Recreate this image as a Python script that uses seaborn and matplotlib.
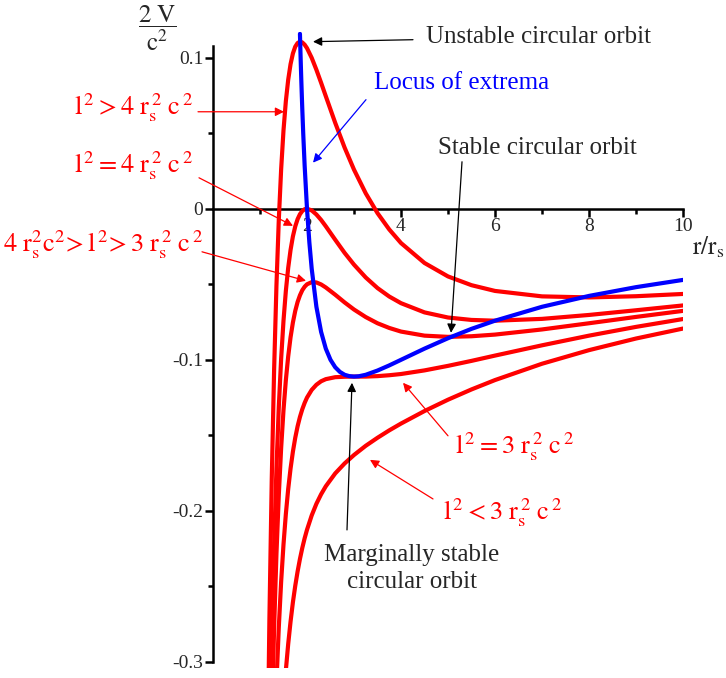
import numpy as np
import pandas as pd
import matplotlib
matplotlib.use('Agg')
import matplotlib.pyplot as plt
import seaborn as sns

# r / r_s sample points for the red potential curves
r_vals = [1.15, 1.2, 1.25, 1.3, 1.35, 1.4, 1.45, 1.5, 1.55, 1.6, 1.65, 1.7, 1.75,
          1.8, 1.85, 1.9, 1.95, 2.0, 2.1, 2.2, 2.3, 2.4, 2.6, 2.8, 3.0, 3.25, 3.5,
          3.75, 4.0, 4.5, 5.0, 5.5, 6.0, 7.0, 8.0, 9.0, 10.0]

# 2V/c^2 for each angular momentum case
v_above4 = [-0.391, -0.272, -0.1792, -0.107, -0.0508, -0.0073, 0.0262, 0.0519, 0.0712,
            0.0854, 0.0957, 0.1028, 0.1073, 0.1097, 0.1106, 0.1101, 0.1086, 0.1063,
            0.0999, 0.092, 0.0834, 0.0745, 0.0569, 0.0405, 0.0259, 0.0102, -0.0029,
            -0.0137, -0.0227, -0.0359, -0.0448, -0.0506, -0.0544, -0.058, -0.0587,
            -0.0579, -0.0564]
v_equal4 = [-0.475, -0.3704, -0.288, -0.223, -0.1717, -0.1312, -0.0992, -0.0741, -0.0544,
            -0.0391, -0.0273, -0.0183, -0.0117, -0.0069, -0.0036, -0.0015, -0.0003, 0.0,
            -0.0011, -0.0038, -0.0074, -0.0116, -0.0205, -0.0292, -0.037, -0.0455,
            -0.0525, -0.0581, -0.0625, -0.0686, -0.072, -0.0736, -0.0741, -0.0729,
            -0.0703, -0.0672, -0.064]
v_between = [-0.5145, -0.4167, -0.3392, -0.2777, -0.2286, -0.1895, -0.1583, -0.1333,
             -0.1135, -0.0977, -0.0851, -0.0753, -0.0676, -0.0617, -0.0573, -0.0539,
             -0.0516, -0.05, -0.0486, -0.0488, -0.0501, -0.0521, -0.0569, -0.062,
             -0.0667, -0.0717, -0.0758, -0.0789, -0.0813, -0.084, -0.0848, -0.0844,
             -0.0833, -0.0799, -0.0758, -0.0716, -0.0676]
v_equal3 = [-0.5737, -0.4861, -0.416, -0.3596, -0.314, -0.277, -0.2468, -0.2222, -0.2021,
            -0.1855, -0.172, -0.1608, -0.1516, -0.144, -0.1378, -0.1327, -0.1285, -0.125,
            -0.1199, -0.1165, -0.1142, -0.1128, -0.1115, -0.1112, -0.1111, -0.1111,
            -0.1108, -0.1102, -0.1094, -0.107, -0.104, -0.1007, -0.0972, -0.0904,
            -0.084, -0.0782, -0.073]
v_below3 = [-0.6427, -0.5671, -0.5056, -0.4552, -0.4136, -0.379, -0.3502, -0.3259,
            -0.3055, -0.2881, -0.2733, -0.2605, -0.2496, -0.2401, -0.2318, -0.2245,
            -0.2181, -0.2125, -0.203, -0.1953, -0.189, -0.1837, -0.1752, -0.1686,
            -0.163, -0.1569, -0.1516, -0.1467, -0.1422, -0.1339, -0.1264, -0.1196,
            -0.1134, -0.1026, -0.0936, -0.0859, -0.0793]

# locus of extrema (blue)
r_locus = [1.85, 1.86, 1.87, 1.88, 1.89, 1.9, 1.92, 1.95, 2.0, 2.05, 2.1, 2.2, 2.3, 2.4,
           2.5, 2.6, 2.7, 2.8, 2.9, 3.0, 3.1, 3.25, 3.5, 3.75, 4.0, 4.5, 5.0, 5.5, 6.0,
           7.0, 8.0, 9.0, 10.0]
v_locus = [0.1158, 0.1045, 0.0939, 0.084, 0.0746, 0.0658, 0.0496, 0.0285, 0.0, -0.0222,
           -0.0397, -0.0649, -0.0815, -0.0926, -0.1, -0.1049, -0.108, -0.1099, -0.1108,
           -0.1111, -0.1109, -0.1099, -0.1071, -0.1037, -0.1, -0.0926, -0.0857, -0.0795,
           -0.0741, -0.0649, -0.0577, -0.0519, -0.0471]

curve_names = ['above4', 'equal4', 'between', 'equal3', 'below3']
curve_vals = [v_above4, v_equal4, v_between, v_equal3, v_below3]

df = pd.concat([pd.DataFrame({'r': r_vals, 'V': v, 'curve': n})
                for n, v in zip(curve_names, curve_vals)], ignore_index=True)
df_locus = pd.DataFrame({'r': r_locus, 'V': v_locus})

sns.set_style('white')
plt.rcParams['font.family'] = ['Liberation Serif', 'DejaVu Serif']
plt.rcParams['mathtext.fontset'] = 'stix'

RED = '#ff0000'
BLUE = '#0000ff'

fig = plt.figure(figsize=(7.26, 6.78), dpi=100)
ax = fig.add_axes([213 / 726, 10 / 678, 470 / 726, 636 / 678])

sns.lineplot(data=df, x='r', y='V', hue='curve', palette={n: RED for n in curve_names},
             estimator=None, sort=False, legend=False, linewidth=3, ax=ax)
sns.lineplot(data=df_locus, x='r', y='V', color=BLUE, estimator=None, sort=False,
             linewidth=3, ax=ax, zorder=5)

ax.set_xlim(0, 10)
ax.set_ylim(-0.304, 0.117)

# Maple style crossing axes
for s in ['top', 'right']:
    ax.spines[s].set_visible(False)
ax.spines['left'].set_position(('data', 0))
ax.spines['bottom'].set_position(('data', 0))
ax.spines['left'].set_bounds(-0.3, 0.108)
ax.spines['bottom'].set_bounds(0, 10)
for s in ['left', 'bottom']:
    ax.spines[s].set_linewidth(1.8)
    ax.spines[s].set_color('black')
    ax.spines[s].set_zorder(1)

ax.set_xticks([2, 4, 6, 8, 10])
ax.set_xticklabels(['2', '4', '6', '8', '10'])
ax.set_xticks([1, 3, 5, 7, 9], minor=True)
ax.set_yticks([-0.3, -0.2, -0.1, 0, 0.1])
ax.set_yticklabels(['-0.3', '-0.2', '-0.1', '0', '0.1'])
ax.set_yticks([-0.25, -0.15, -0.05, 0.05], minor=True)
ax.tick_params(which='both', bottom=True, left=True, top=False, right=False,
               direction='out', color='black', width=1.8)
ax.tick_params(which='major', length=6, labelsize=14, pad=1)
ax.tick_params(which='minor', length=3.5)
ax.set_xlabel('')
ax.set_ylabel('')
ax.grid(False)

# axis labels
ax.text(-1.19, 0.1195, r'$\dfrac{2\ \mathrm{V}}{\mathrm{c}^{2}}$', fontsize=18,
        ha='center', va='center')
ax.text(10.19, -0.0252, r'$\mathrm{r/r_s}$', fontsize=18, ha='left', va='center')

def arrow(tail, head, color):
    ax.annotate('', xy=head, xytext=tail, annotation_clip=False,
                arrowprops=dict(arrowstyle='-|>', color=color, lw=0.9,
                                mutation_scale=13, shrinkA=0, shrinkB=0))

# black annotations
ax.text(4.532, 0.1139, 'Unstable circular orbit', fontsize=18, ha='left', va='center')
arrow((4.255, 0.1119), (2.128, 0.1106), 'black')
ax.text(4.787, 0.0404, 'Stable circular orbit', fontsize=18, ha='left', va='center')
arrow((5.298, 0.0311), (5.064, -0.0821), 'black')
ax.text(4.234, -0.2384, 'Marginally stable\ncircular orbit', fontsize=18,
        ha='center', va='center', linespacing=1.3)
arrow((2.851, -0.2126), (2.957, -0.1152), 'black')

# blue annotation
ax.text(3.426, 0.0834, 'Locus of extrema', fontsize=18, color=BLUE, ha='left', va='center')
arrow((3.255, 0.0722), (2.128, 0.0305), BLUE)

# red annotations
ax.text(-0.43, 0.0669, r'$\mathrm{l}^{\,2} > 4\ \mathrm{r}_\mathrm{s}^{\,2}\ \mathrm{c}^{\,2}$',
        fontsize=19, color=RED, ha='right', va='center')
arrow((-0.319, 0.0642), (1.511, 0.0642), RED)
ax.text(-0.43, 0.0285, r'$\mathrm{l}^{\,2} = 4\ \mathrm{r}_\mathrm{s}^{\,2}\ \mathrm{c}^{\,2}$',
        fontsize=19, color=RED, ha='right', va='center')
arrow((-0.298, 0.0205), (1.702, -0.0113), RED)
ax.text(-0.21, -0.0238,
        r'$4\ \mathrm{r}_\mathrm{s}^{2}\mathrm{c}^{2}\!>\mathrm{l}^{\,2}\!>3\ \mathrm{r}_\mathrm{s}^{\,2}\ \mathrm{c}^{\,2}$',
        fontsize=19, color=RED, ha='right', va='center')
arrow((-0.234, -0.0285), (1.979, -0.0477), RED)
ax.text(5.149, -0.1576, r'$\mathrm{l}^{\,2} = 3\ \mathrm{r}_\mathrm{s}^{\,2}\ \mathrm{c}^{\,2}$',
        fontsize=19, color=RED, ha='left', va='center')
arrow((5.0, -0.1503), (4.043, -0.1152), RED)
ax.text(4.894, -0.2013, r'$\mathrm{l}^{\,2} < 3\ \mathrm{r}_\mathrm{s}^{\,2}\ \mathrm{c}^{\,2}$',
        fontsize=19, color=RED, ha='left', va='center')
arrow((4.681, -0.1921), (3.340, -0.1662), RED)

fig.savefig('out.png', dpi=100)
